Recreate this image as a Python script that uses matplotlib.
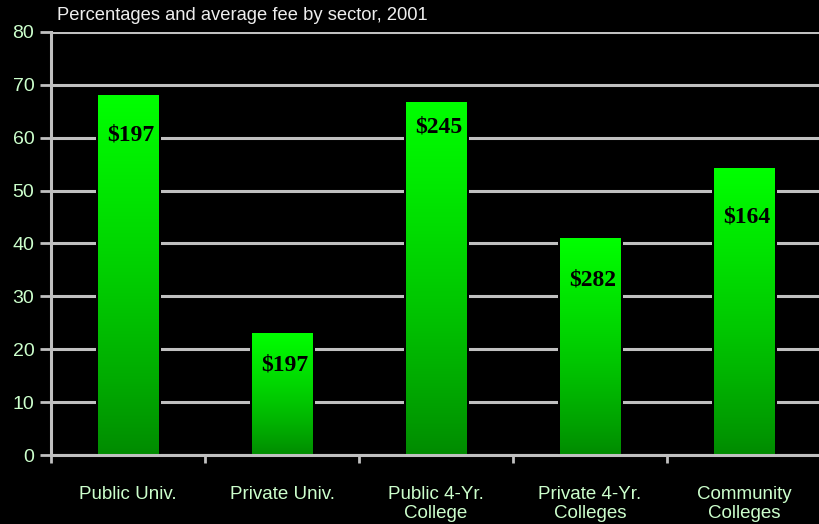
import matplotlib
matplotlib.use("Agg")
import matplotlib.pyplot as plt
import numpy as np
from matplotlib.colors import LinearSegmentedColormap

# data
sectors = ["Public Univ.", "Private Univ.", "Public 4-Yr.\nCollege",
           "Private 4-Yr.\nColleges", "Community\nColleges"]
percentages = [68, 23, 66.7, 41, 54.3]
fee_labels = ["$197", "$197", "$245", "$282", "$164"]
fee_label_y = [60.5, 17.0, 62.0, 33.1, 45.0]

BG = "black"
GRID = "#c0c0c0"
TXT = "#ccffcc"

fig = plt.figure(figsize=(8.2, 5.24), dpi=100, facecolor=BG)
ax = fig.add_axes([51 / 820, 69 / 524, 770 / 820, 423 / 524], facecolor=BG)

x = np.arange(len(sectors))
width = 0.39

ax.set_xlim(-0.5, len(sectors) - 0.5)
ax.set_ylim(0, 80)

# gridlines behind the bars
ax.set_axisbelow(True)
ax.yaxis.grid(True, color=GRID, linewidth=2.2)

# black outline gives the small gap where gridlines meet bars
bars = ax.bar(x, percentages, width, facecolor="none", edgecolor=BG,
              linewidth=3.6, zorder=2)

cmap = LinearSegmentedColormap.from_list("grn", ["#008a00", "#00c800", "#00ff00"])
grad = np.linspace(0, 1, 256).reshape(-1, 1) ** 0.85
for b in bars:
    x0, y0 = b.get_x(), b.get_y()
    im = ax.imshow(grad, cmap=cmap, aspect="auto", origin="lower",
                   extent=[x0, x0 + b.get_width(), y0, y0 + b.get_height()],
                   zorder=3)
    im.set_clip_path(b)
ax.set_xlim(-0.5, len(sectors) - 0.5)
ax.set_ylim(0, 80)

for xi, lab, ly in zip(x, fee_labels, fee_label_y):
    ax.text(xi + 0.02, ly, lab, ha="center", va="center", fontsize=17,
            fontweight="bold", family=["Liberation Serif", "DejaVu Serif"],
            color="black", zorder=4)

# axes styling
for s in ["top", "right"]:
    ax.spines[s].set_visible(False)
for s in ["left", "bottom"]:
    ax.spines[s].set_color(GRID)
    ax.spines[s].set_linewidth(2.2)
    ax.spines[s].set_zorder(5)

ax.set_yticks(np.arange(0, 81, 10))
ax.tick_params(axis="y", colors=GRID, labelcolor=TXT, length=8, width=2,
               labelsize=14, pad=4)
for t in ax.get_yticklabels():
    t.set_family(["Liberation Sans", "DejaVu Sans"])

ax.set_xticks(np.arange(-0.5, len(sectors) - 0.5, 1.0))
ax.set_xticklabels([])
ax.tick_params(axis="x", which="major", colors=GRID, length=6, width=2)
ax.set_xticks(x, minor=True)
ax.set_xticklabels(sectors, minor=True, fontsize=13.5, color=TXT,
                   family=["Liberation Sans", "DejaVu Sans"], linespacing=1.2)
ax.tick_params(axis="x", which="minor", length=0, pad=22)

fig.text(57 / 820, 1 - 15 / 524, "Percentages and average fee by sector, 2001",
         color="#eeeeee", fontsize=13.2, va="center", ha="left",
         family=["Liberation Sans", "DejaVu Sans"])

fig.savefig("out.png", dpi=100, facecolor=BG)
